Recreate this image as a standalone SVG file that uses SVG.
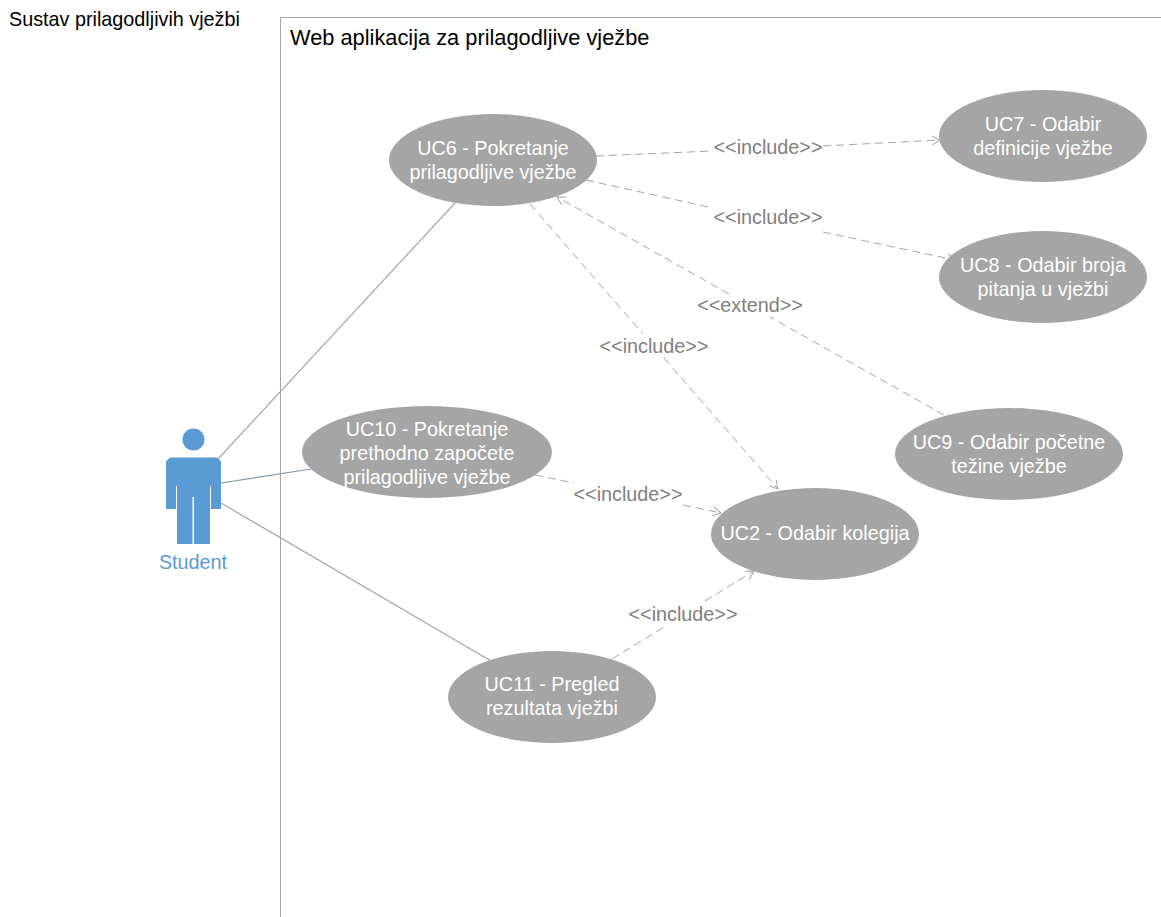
<svg xmlns="http://www.w3.org/2000/svg" width="1161" height="917" viewBox="0 0 1161 917">
<defs>
<marker id="open" markerUnits="userSpaceOnUse" markerWidth="16" markerHeight="16" refX="11" refY="8" orient="auto"><path d="M3 3.500L11 8L3 12.500" fill="none" stroke="#a5a5a5" stroke-width="1"/></marker>
</defs>
<style>
text{font-family:"Liberation Sans",Arial,sans-serif;font-size:19.8px;text-anchor:middle}
.uc ellipse{fill:#a5a5a5}
.uc text{fill:#fff}
.assoc{fill:none;stroke:#a5a5a5;stroke-width:1.2}
.dep{fill:none;stroke:#a5a5a5;stroke-width:1;stroke-dasharray:8 5;marker-end:url(#open)}
.lbl{fill:#7f7f7f}
.title{fill:#000;text-anchor:start}
</style>
<rect width="1161" height="917" fill="#fff"/>
<path id="frame" d="M280.5 917V17.500H1161" fill="none" stroke="#a5a5a5" stroke-width="1"/>
<text class="title" x="9" y="26">Sustav prilagodljivih vježbi</text>
<text class="title" x="290" y="45" style="font-size:21.8px">Web aplikacija za prilagodljive vježbe</text>
<g id="connectors">
<path class="assoc" d="M218 459L455 203"/>
<path class="assoc" d="M221 483L311 469" style="stroke:#8497b0"/>
<path class="assoc" d="M221 503L491 661"/>
<path class="dep" d="M596 156L713 151M823 146L940 140"/>
<path class="dep" d="M586 180L713 208M823 232L955 260"/>
<path class="dep" d="M944 415L770 317M729 294L557 197"/>
<path class="dep" d="M530 204L643 334M664 358L778 489"/>
<path class="dep" d="M535 475L574 483M683 505L721 513"/>
<path class="dep" d="M612 659L664 627M705 601L754 571"/>
<text class="lbl" x="768" y="154">&lt;&lt;include&gt;&gt;</text>
<text class="lbl" x="768" y="224">&lt;&lt;include&gt;&gt;</text>
<text class="lbl" x="750" y="312">&lt;&lt;extend&gt;&gt;</text>
<text class="lbl" x="654" y="353">&lt;&lt;include&gt;&gt;</text>
<text class="lbl" x="628" y="501">&lt;&lt;include&gt;&gt;</text>
<text class="lbl" x="683" y="621">&lt;&lt;include&gt;&gt;</text>
</g>
<g id="student">
<circle cx="193.5" cy="439.5" r="11" fill="#5b9bd5"/>
<path d="M170 457.500H217L221 461.500V509H211V486H210V544H194V497H192.500V544H177V486H176V509H166V461.500Z" fill="#5b9bd5"/>
<text x="193" y="569" fill="#5b9bd5">Student</text>
</g>
<g id="uc6" class="uc"><ellipse cx="493" cy="160" rx="104" ry="46"/><text x="493" y="155">UC6 - Pokretanje</text><text x="493" y="179">prilagodljive vježbe</text></g>
<g id="uc7" class="uc"><ellipse cx="1043" cy="136" rx="104" ry="46"/><text x="1043" y="131">UC7 - Odabir</text><text x="1043" y="155">definicije vježbe</text></g>
<g id="uc8" class="uc"><ellipse cx="1043" cy="277" rx="104" ry="46"/><text x="1043" y="272">UC8 - Odabir broja</text><text x="1043" y="296">pitanja u vježbi</text></g>
<g id="uc9" class="uc"><ellipse cx="1009" cy="454" rx="114" ry="46"/><text x="1009" y="449">UC9 - Odabir početne</text><text x="1009" y="473">težine vježbe</text></g>
<g id="uc10" class="uc"><ellipse cx="427" cy="452" rx="125" ry="46"/><text x="427" y="436">UC10 - Pokretanje</text><text x="427" y="460">prethodno započete</text><text x="427" y="484">prilagodljive vježbe</text></g>
<g id="uc2" class="uc"><ellipse cx="815" cy="534" rx="104" ry="46"/><text x="815" y="540">UC2 - Odabir kolegija</text></g>
<g id="uc11" class="uc"><ellipse cx="552" cy="697" rx="104" ry="46"/><text x="552" y="691">UC11 - Pregled</text><text x="552" y="715">rezultata vježbi</text></g>
</svg>
